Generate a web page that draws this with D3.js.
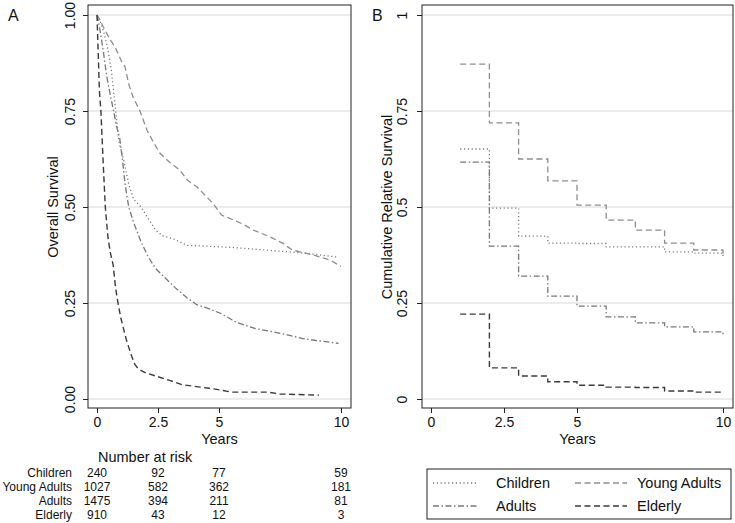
<!DOCTYPE html>
<html><head><meta charset="utf-8">
<script src="https://cdn.jsdelivr.net/npm/d3@7"></script>
<style>body{margin:0;background:#fff}svg{display:block;font-family:"Liberation Sans",Arial,sans-serif}</style>
</head><body><svg id="c" width="735" height="523"></svg>
<script>
// ---- Data ----
const groups = ["Children", "Young Adults", "Adults", "Elderly"];
const xTicks = [0, 2.5, 5, 10];
const yTicksA = [0, 0.25, 0.5, 0.75, 1];
const yTickLabelsA = ["0.00", "0.25", "0.50", "0.75", "1.00"];
const yTickLabelsB = ["0", "0.25", "0.5", "0.75", "1"];

// Panel A: Kaplan-Meier overall survival [years, survival]
const kmChildren = [[0,1],[0.15,0.98],[0.3,0.95],[0.45,0.91],[0.6,0.85],[0.75,0.76],[0.9,0.67],[1.1,0.62],[1.3,0.56],[1.5,0.52],[1.8,0.5],[2.1,0.47],[2.4,0.44],[2.7,0.425],[3.2,0.415],[3.7,0.4],[4.5,0.398],[5.5,0.395],[6.5,0.39],[7.5,0.385],[8.5,0.38],[9.8,0.37]];
const kmYoung = [[0,1],[0.1,0.99],[0.25,0.97],[0.5,0.94],[0.75,0.915],[1.0,0.88],[1.15,0.865],[1.3,0.82],[1.48,0.786],[1.76,0.75],[2.05,0.7],[2.3,0.67],[2.58,0.64],[3.0,0.615],[3.4,0.596],[3.7,0.57],[4.1,0.552],[4.5,0.526],[4.75,0.51],[5.1,0.479],[5.6,0.466],[6.0,0.455],[6.4,0.44],[7.1,0.422],[7.6,0.406],[8.0,0.388],[8.85,0.375],[9.55,0.362],[10.0,0.345]];
const kmAdults = [[0,1],[0.1,0.97],[0.25,0.91],[0.4,0.84],[0.55,0.79],[0.68,0.75],[0.8,0.71],[0.93,0.68],[1.05,0.62],[1.15,0.56],[1.3,0.5],[1.5,0.46],[1.8,0.41],[2.1,0.37],[2.4,0.34],[2.8,0.315],[3.2,0.29],[3.7,0.263],[4.1,0.245],[4.6,0.235],[5.1,0.222],[5.7,0.2],[6.5,0.183],[7.2,0.175],[7.8,0.167],[8.4,0.158],[9.0,0.152],[9.9,0.145]];
const kmElderly = [[0,1],[0.05,0.9],[0.1,0.8],[0.16,0.75],[0.25,0.62],[0.34,0.5],[0.45,0.42],[0.55,0.38],[0.66,0.35],[0.76,0.29],[0.86,0.25],[0.98,0.21],[1.1,0.18],[1.2,0.155],[1.4,0.115],[1.55,0.09],[1.7,0.078],[2.0,0.068],[2.5,0.058],[3.0,0.048],[3.5,0.037],[4.0,0.033],[4.6,0.028],[5.1,0.023],[5.5,0.018],[7.0,0.018],[7.5,0.013],[9.1,0.01]];

// Panel B: cumulative relative survival at years 1..10
const relYears = [1,2,3,4,5,6,7,8,9,10];
const relChildren = [0.651,0.497,0.424,0.406,0.405,0.396,0.396,0.383,0.38,0.372];
const relYoung = [0.872,0.719,0.625,0.568,0.505,0.466,0.44,0.406,0.388,0.37];
const relAdults = [0.617,0.398,0.32,0.268,0.242,0.214,0.198,0.188,0.175,0.166];
const relElderly = [0.221,0.081,0.06,0.045,0.036,0.031,0.03,0.021,0.018,0.018];

// Number at risk
const riskTimes = [0, 2.5, 5, 10];
const riskChildren = [240, 92, 77, 59];
const riskYoung = [1027, 582, 362, 181];
const riskAdults = [1475, 394, 211, 81];
const riskElderly = [910, 43, 12, 3];

// ---- Styles ----
const styles = {
  "Children": {stroke:"#7a7a7a", dash:"1.2,2.6", w:1.3},
  "Young Adults": {stroke:"#8e8e8e", dash:"6,3.5", w:1.3},
  "Adults": {stroke:"#777", dash:"6,2.5,1.5,2.5", w:1.3},
  "Elderly": {stroke:"#3a3a3a", dash:"6,3.5", w:1.4}
};

const svg = d3.select("#c");
const y = d3.scaleLinear().domain([0,1]).range([399,15]);
const frameTop = 5, frameBottom = 408;

function panel(x, frameL, frameR, yLabels, yTitle, yTickX, yTitleX, letter, letterX) {
  const g = svg.append("g");
  g.selectAll("line.grid").data(yTicksA).join("line")
    .attr("x1", frameL).attr("x2", frameR)
    .attr("y1", d => y(d)).attr("y2", d => y(d))
    .attr("stroke", "#d9d9d9").attr("stroke-width", 1.2);
  g.append("rect").attr("x", frameL).attr("y", frameTop).attr("width", frameR-frameL).attr("height", frameBottom-frameTop)
    .attr("fill", "none").attr("stroke", "#222").attr("stroke-width", 1);
  const ya = d3.axisLeft(y).tickValues(yTicksA).tickSize(5).tickFormat((d,i) => yLabels[i]);
  const yg = g.append("g").attr("transform", `translate(${frameL},0)`).call(ya);
  yg.select(".domain").remove();
  yg.selectAll(".tick line").attr("stroke", "#222");
  yg.selectAll(".tick text").attr("x", null).attr("dy", null)
    .attr("transform", `translate(${yTickX-frameL},0) rotate(-90)`)
    .attr("text-anchor", "middle").attr("font-size", 14).attr("fill", "#111");
  const xa = d3.axisBottom(x).tickValues(xTicks).tickSize(5).tickFormat(d => String(d));
  const xg = g.append("g").attr("transform", `translate(0,${frameBottom})`).call(xa);
  xg.select(".domain").remove();
  xg.selectAll(".tick line").attr("stroke", "#222");
  xg.selectAll(".tick text").attr("y", 19).attr("dy", null).attr("font-size", 14).attr("fill", "#111");
  g.append("text").attr("x", (frameL+frameR)/2).attr("y", 444).attr("text-anchor", "middle")
    .attr("font-size", 14.5).attr("fill", "#111").text("Years");
  g.append("text").attr("transform", `translate(${yTitleX},207) rotate(-90)`).attr("text-anchor", "middle")
    .attr("font-size", 14.5).attr("fill", "#111").text(yTitle);
  g.append("text").attr("x", letterX).attr("y", 21).attr("font-size", 16).attr("fill", "#111").text(letter);
  return g;
}

// Panel A
const xA = d3.scaleLinear().domain([0,10]).range([97,341]);
const gA = panel(xA, 88, 351, yTickLabelsA, "Overall Survival", 75, 58, "A", 8);
const lineA = d3.line().x(d => xA(d[0])).y(d => y(d[1]));
[["Children",kmChildren],["Adults",kmAdults],["Young Adults",kmYoung],["Elderly",kmElderly]].forEach(([k,data]) => {
  const s = styles[k];
  gA.append("path").datum(data).attr("d", lineA).attr("fill","none")
    .attr("stroke", s.stroke).attr("stroke-width", s.w).attr("stroke-dasharray", s.dash);
});

// Panel B
const xB = d3.scaleLinear().domain([0,10]).range([431,723]);
const gB = panel(xB, 422, 733, yTickLabelsB, "Cumulative Relative Survival", 407, 392, "B", 372);
const lineB = d3.line().x(d => xB(d[0])).y(d => y(d[1])).curve(d3.curveStepAfter);
[["Children",relChildren],["Adults",relAdults],["Young Adults",relYoung],["Elderly",relElderly]].forEach(([k,vals]) => {
  const s = styles[k];
  const data = relYears.map((t,i) => [t, vals[i]]);
  gB.append("path").datum(data).attr("d", lineB).attr("fill","none")
    .attr("stroke", s.stroke).attr("stroke-width", s.w).attr("stroke-dasharray", s.dash);
});

// Number at risk table
svg.append("text").attr("x", xA(0)+1).attr("y", 462).attr("font-size", 14.5).attr("fill", "#111").text("Number at risk");
const riskRows = [["Children",riskChildren],["Young Adults",riskYoung],["Adults",riskAdults],["Elderly",riskElderly]];
riskRows.forEach(([name, vals], r) => {
  const yy = 477 + r*14;
  svg.append("text").attr("x", 72).attr("y", yy).attr("text-anchor","end").attr("font-size", 12).attr("fill","#111").text(name);
  svg.selectAll(null).data(vals).join("text")
    .attr("x", (d,i) => xA(riskTimes[i])).attr("y", yy).attr("text-anchor","middle")
    .attr("font-size", 12).attr("fill","#111").text(d => d);
});

// Legend
const lg = svg.append("g");
lg.append("rect").attr("x", 427).attr("y", 469).attr("width", 304).attr("height", 50)
  .attr("fill","none").attr("stroke","#222").attr("stroke-width",1);
const legendItems = [
  {k:"Children", col:0, row:0}, {k:"Young Adults", col:1, row:0},
  {k:"Adults", col:0, row:1}, {k:"Elderly", col:1, row:1}
];
const colX = [[433,477,496],[575,627,637]];
legendItems.forEach(it => {
  const s = styles[it.k];
  const yy = it.row ? 506 : 483;
  const c = colX[it.col];
  lg.append("line").attr("x1", c[0]).attr("x2", c[1]).attr("y1", yy).attr("y2", yy)
    .attr("stroke", s.stroke).attr("stroke-width", s.w).attr("stroke-dasharray", s.dash);
  lg.append("text").attr("x", c[2]).attr("y", yy+5).attr("font-size", 14.5).attr("fill","#111").text(it.k);
});
</script></body></html>
